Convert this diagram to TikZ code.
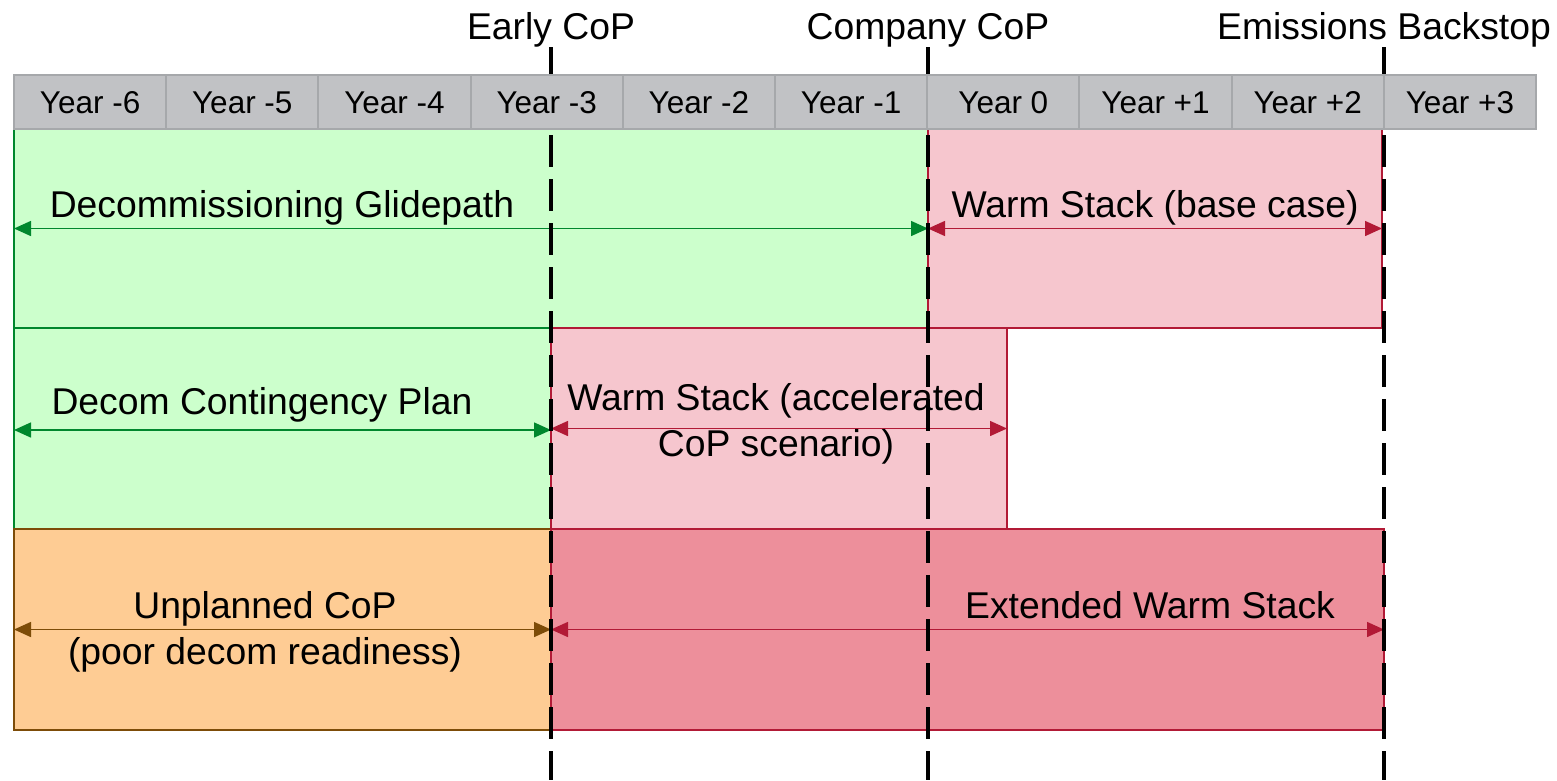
\documentclass[tikz,border=0pt]{standalone}
\usepackage{fontspec}
\setmainfont{Liberation Sans}
\usetikzlibrary{arrows.meta,fit,positioning}
\definecolor{glideFill}{RGB}{204,255,204}
\definecolor{glideLine}{RGB}{0,135,45}
\definecolor{warmFill}{RGB}{246,198,206}
\definecolor{warmLine}{RGB}{178,26,54}
\definecolor{extFill}{RGB}{237,143,155}
\definecolor{unplFill}{RGB}{254,204,148}
\definecolor{unplLine}{RGB}{125,76,8}
\definecolor{hdrFill}{RGB}{193,194,197}
\definecolor{hdrLine}{RGB}{166,168,171}
\tikzset{
  >={Triangle[length=17pt,width=15pt]}
}

\begin{document}
\begin{tikzpicture}[x=1pt,y=-1pt,
    box/.style={inner sep=0pt,outer sep=0pt,line width=2pt},
    glide/.style={box,draw=glideLine,fill=glideFill},
    warm/.style={box,draw=warmLine,fill=warmFill},
    extwarm/.style={box,draw=warmLine,fill=extFill},
    unpl/.style={box,draw=unplLine,fill=unplFill},
    span/.style={<->,line width=1.5pt},
    lbl/.style={font=\fontsize{37.3}{45.5}\selectfont,align=center,anchor=base,inner sep=0pt},
    yearcell/.style={draw=hdrLine,fill=hdrFill,line width=2pt,minimum width=152.2pt,
      minimum height=54pt,inner sep=0pt,text height=22.5pt,text depth=0pt,
      font=\fontsize{31.5}{36}\selectfont},
    milestone/.style={line width=3.5pt,dash pattern=on 32pt off 12pt}]
        \useasboundingbox (0,0) rectangle (1557,780);

        % rows of phases
        \node (glide) [glide, fit={(14,129) (928,328)}] {};
        \node (warmbase) [warm, fit={(928,129) (1382,328)}] {};
        \node (contplan) [glide, fit={(14,328) (551,529)}] {};
        \node (warmacc) [warm, fit={(551,328) (1007,529)}] {};
        \node (unplanned) [unpl, fit={(14,529) (551,730)}] {};
        \node (extwarm) [extwarm, fit={(551,529) (1384,730)}] {};

        \draw[span,glideLine] (glide.west) -- (glide.east);
        \draw[span,warmLine] (warmbase.west) -- (warmbase.east);
        \draw[span,glideLine] ([yshift=-1.5pt]contplan.west) -- ([yshift=-1.5pt]contplan.east);
        \draw[span,warmLine] (warmacc.west) -- (warmacc.east);
        \draw[span,unplLine] (unplanned.west) -- (unplanned.east);
        \draw[span,warmLine] (extwarm.west) -- (extwarm.east);

        % base is the last line for the two-line labels
        \node (glidelbl) [lbl] at (282,217) {Decommissioning Glidepath};
        \node (warmbaselbl) [lbl] at (1155,217) {Warm Stack (base case)};
        \node (contplanlbl) [lbl] at (262,414) {Decom Contingency Plan};
        \node (warmacclbl) [lbl] at (776,456) {Warm Stack (accelerated\\CoP scenario)};
        \node (unplannedlbl) [lbl] at (265,664) {Unplanned CoP\\(poor decom readiness)};
        \node (extwarmlbl) [lbl] at (1150,618) {Extended Warm Stack};

        % milestones
        \foreach \name/\x/\txt in {early/551/Early CoP, company/928/Company CoP, backstop/1384/Emissions Backstop} {
          \coordinate (\name top) at (\x,47);
          \coordinate (\name bot) at (\x,780);
          \draw[milestone] (\name top) -- (\name bot);
          \node (\name lbl) [lbl] at (\x,39) {\txt};
        }

        % year header
        \foreach \yr [count=\i from 0] in {-6,-5,-4,-3,-2,-1,0,+1,+2,+3}
          \node (yr\i) [yearcell] at ({90.1+152.2*\i},102) {Year \yr};
    \end{tikzpicture}
\end{document}
